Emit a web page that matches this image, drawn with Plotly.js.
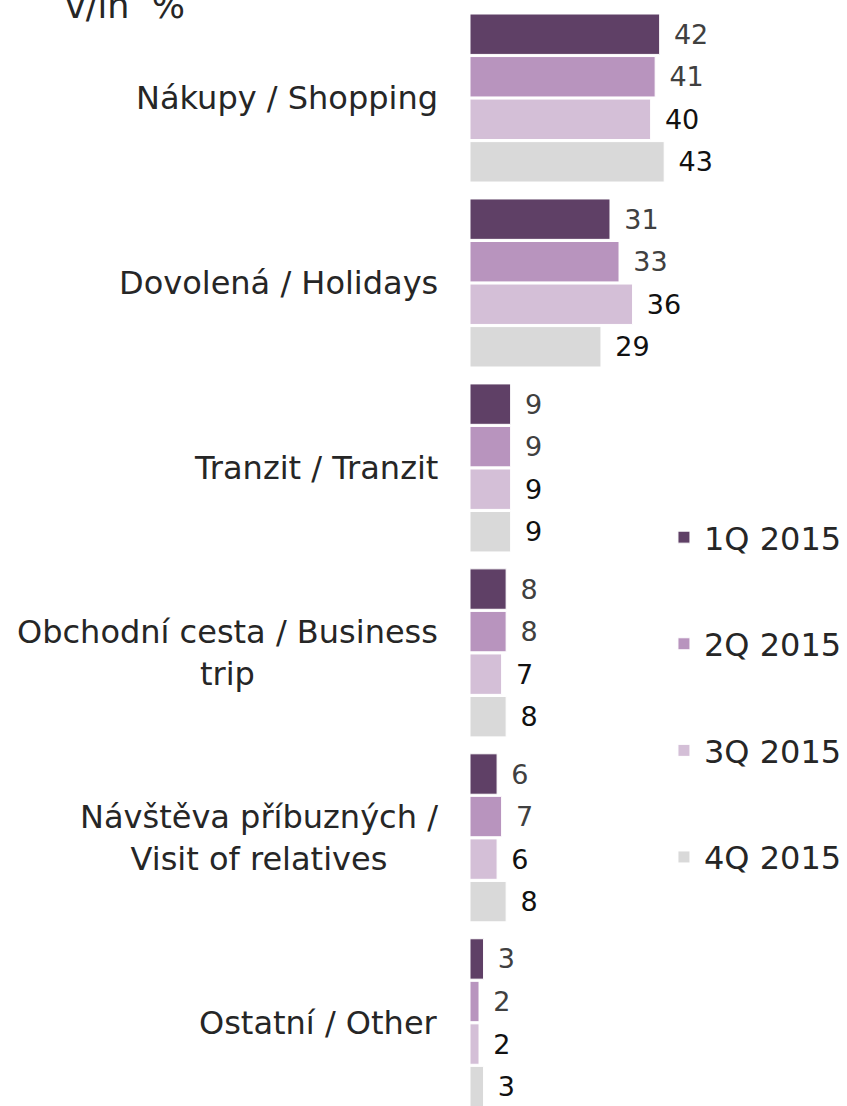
<!DOCTYPE html>
<html><head><meta charset="utf-8">
<script src="https://cdn.plot.ly/plotly-3.0.1.min.js"></script>
<style>html,body{margin:0;padding:0;overflow:hidden;background:#fff}</style>
</head><body><div id="chart" style="width:847px;height:1106px"></div>
<script>
const categories = ["Nákupy / Shopping","Dovolená / Holidays","Tranzit / Tranzit","Obchodní cesta / Business trip","Návštěva příbuzných / Visit of relatives","Ostatní / Other"];
const categoryLabels = ["Nákupy / Shopping","Dovolená / Holidays","Tranzit / Tranzit","Obchodní cesta / Business<br>trip","Návštěva příbuzných /<br>Visit of relatives","Ostatní / Other"];
const seriesNames = ["1Q 2015","2Q 2015","3Q 2015","4Q 2015"];
const q1 = [42,31,9,8,6,3];
const q2 = [41,33,9,8,7,2];
const q3 = [40,36,9,7,6,2];
const q4 = [43,29,9,8,8,3];
const unitLabel = "v/in\u00a0 %";

const seriesValues = [q1,q2,q3,q4];
const colors = ["#5F4066","#B894BE","#D4BFD7","#D9D9D9"];
const labelColors = ["#404040","#404040","#111111","#111111"];
const FONT = "DejaVu Sans, Verdana, sans-serif";

const traces = seriesValues.map((vals,i)=>({
  type:"bar", orientation:"h", name:seriesNames[i],
  x:vals, y:categories,
  marker:{color:colors[i], line:{color:"#ffffff", width:1}},
  text:vals.map(v=>"\u00a0\u200a"+v), textposition:"outside",
  textfont:{family:FONT, size:27, color:labelColors[i]},
  constraintext:"none", cliponaxis:false,
  legendgroup:"g"+i, hoverinfo:"skip"
}));

const annotations = categories.map((c,i)=>({
  x:-0.08, xref:"paper", xanchor:"right",
  y:c, yref:"y", yanchor:"middle",
  text:categoryLabels[i], showarrow:false, align:"center",
  font:{family:FONT, size:32, color:"#262626"}
}));
annotations.push({
  x:-1.09, xref:"paper", xanchor:"left", y:0.995, yref:"paper", yanchor:"middle",
  text:unitLabel, showarrow:false, font:{family:FONT, size:35, color:"#262626"}
});

const layout = {
  width:847, height:1106,
  margin:{l:470, r:0, t:0, b:0},
  paper_bgcolor:"#ffffff", plot_bgcolor:"#ffffff",
  barmode:"group", bargap:0.08, bargroupgap:0.05,
  xaxis:{range:[0,82.6], visible:false, fixedrange:true},
  yaxis:{type:"category", categoryorder:"array", categoryarray:categories,
         range:[5.45,-0.53], showticklabels:false, showgrid:false, zeroline:false,
         showline:false, ticks:""},
  showlegend:true,
  legend:{x:0.52, xanchor:"left", y:0.539, yanchor:"top", traceorder:"grouped",
          tracegroupgap:62, font:{family:FONT, size:32, color:"#262626"},
          bgcolor:"rgba(0,0,0,0)", itemclick:false, itemdoubleclick:false},
  annotations:annotations
};
Plotly.newPlot("chart", traces, layout, {displayModeBar:false, staticPlot:true});
</script></body></html>
